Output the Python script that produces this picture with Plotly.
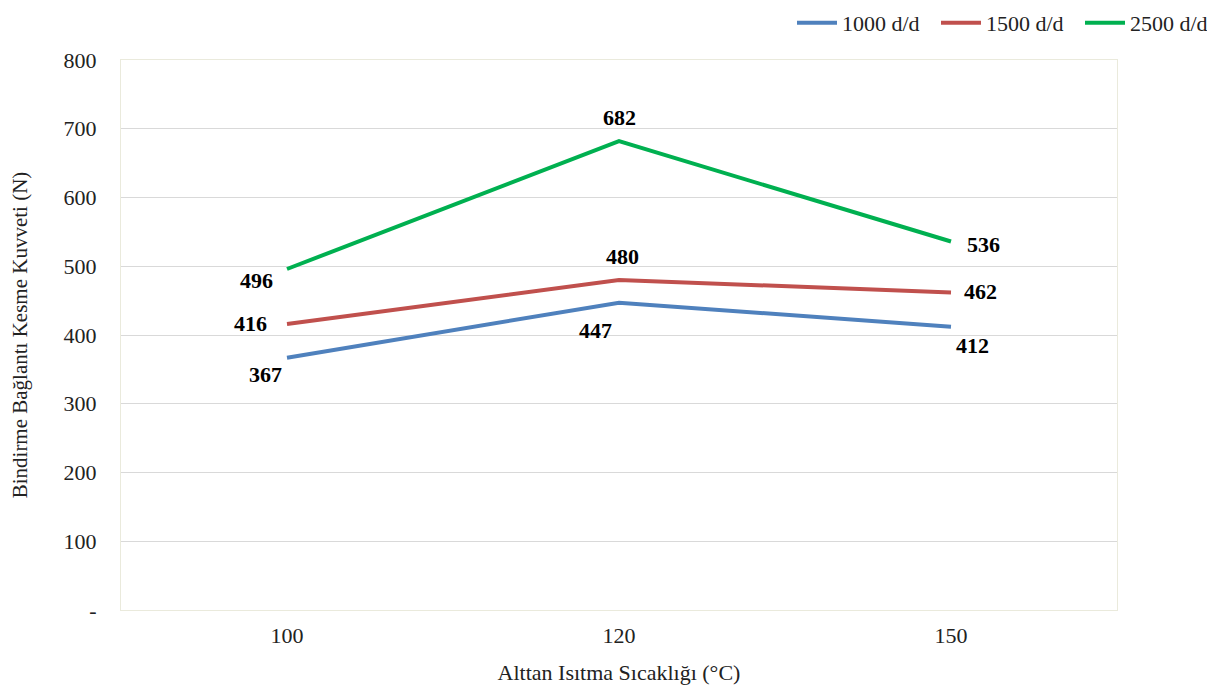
import plotly.graph_objects as go

categories = ["100", "120", "150"]
series_names = ["1000 d/d", "1500 d/d", "2500 d/d"]
s1000 = [367, 447, 412]
s1500 = [416, 480, 462]
s2500 = [496, 682, 536]
colors = ["#4F81BD", "#C0504D", "#00B050"]
# label offsets in pixels (dx, dy with dy positive = up)
label_offsets = [
    [(-22, -17), (-24, -28), (21, -19)],
    [(-37, 1), (3, 24), (29, 1)],
    [(-31, -11), (0, 24), (32, -3)],
]
y_ticks = [0, 100, 200, 300, 400, 500, 600, 700, 800]
y_ticklabels = ["-", "100", "200", "300", "400", "500", "600", "700", "800"]

FONT = "Liberation Serif, Times New Roman, serif"
fig = go.Figure()
annotations = []
for name, vals, col, offs in zip(series_names, [s1000, s1500, s2500], colors, label_offsets):
    fig.add_trace(go.Scatter(
        x=categories, y=vals, name=name, mode="lines",
        line=dict(color=col, width=4),
    ))
    for i, (v, (dx, dy)) in enumerate(zip(vals, offs)):
        annotations.append(dict(
            x=i, y=v, xref="x", yref="y", text=f"<b>{v}</b>", showarrow=False,
            xshift=dx, yshift=dy, xanchor="center", yanchor="middle",
            font=dict(family=FONT, size=22, color="black"),
        ))

# page has an 8px body margin; figure sized to fit the window
W, H = 1199, 677
fig.update_layout(
    width=W, height=H,
    margin=dict(l=113, r=90, t=52, b=75, autoexpand=False),
    paper_bgcolor="white", plot_bgcolor="white",
    font=dict(family=FONT, size=22, color="#222222"),
    annotations=annotations,
    legend=dict(orientation="h", xref="container", yref="container",
                x=784 / W, xanchor="left", y=1 - 15 / H, yanchor="middle",
                font=dict(size=22), itemwidth=40, tracegroupgap=0,
                entrywidth=89, entrywidthmode="pixels",
                bgcolor="rgba(0,0,0,0)"),
    xaxis=dict(type="category", showgrid=False, ticks="", showline=True, linecolor="#EAEADC",
               mirror=True, range=[-0.5, 2.5], ticklabelstandoff=6,
               title=dict(text="Alttan Isıtma Sıcaklığı (°C)", font=dict(size=22), standoff=24)),
    yaxis=dict(range=[0, 800], tickvals=y_ticks, ticktext=y_ticklabels, showgrid=True,
               gridcolor="#D9D9D9", gridwidth=1, showline=True, linecolor="#EAEADC", mirror=True,
               zeroline=False, ticks="", ticklen=0, ticklabelstandoff=19,
               title=dict(text="Bindirme Bağlantı Kesme Kuvveti (N)", font=dict(size=21), standoff=41)),
)
fig.write_html("out.html")
